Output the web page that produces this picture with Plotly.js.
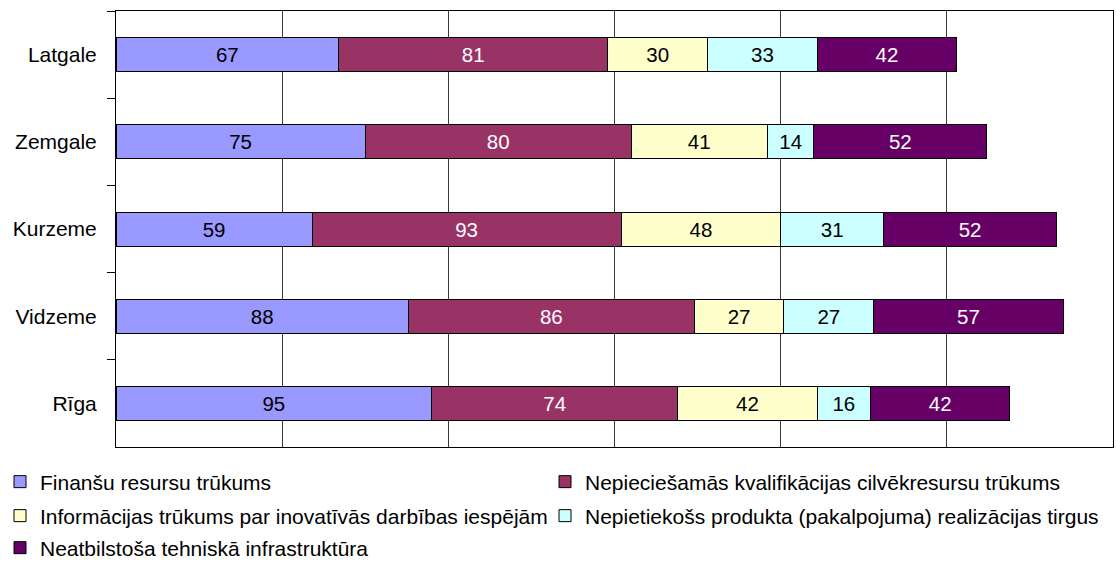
<!DOCTYPE html>
<html>
<head>
<meta charset="utf-8">
<script src="https://cdn.plot.ly/plotly-3.0.1.min.js"></script>
<style>html,body{margin:0;padding:0;background:#fff}#chart{width:1116px;height:561px}</style>
</head>
<body>
<div id="chart"></div>
<script>
const regions = ['Latgale', 'Zemgale', 'Kurzeme', 'Vidzeme', 'Rīga'];
const seriesNames = [
  'Finanšu resursu trūkums',
  'Nepieciešamās kvalifikācijas cilvēkresursu trūkums',
  'Informācijas trūkums par inovatīvās darbības iespējām',
  'Nepietiekošs produkta (pakalpojuma) realizācijas tirgus',
  'Neatbilstoša tehniskā infrastruktūra'
];
const finansu = [67, 75, 59, 88, 95];
const kvalifikacijas = [81, 80, 93, 86, 74];
const informacijas = [30, 41, 48, 27, 42];
const tirgus = [33, 14, 31, 27, 16];
const infrastruktura = [42, 52, 52, 57, 42];
const seriesValues = [finansu, kvalifikacijas, informacijas, tirgus, infrastruktura];
const colors = ['#9999FF', '#993366', '#FFFFCC', '#CCFFFF', '#660066'];
const textColors = ['#000000', '#FFFFFF', '#000000', '#000000', '#FFFFFF'];
const legendIds = ['legend', 'legend2', 'legend3', 'legend4', 'legend5'];

const FONT = 'Arial, "Liberation Sans", sans-serif';
const LEGFONT = {family: FONT, size: 21, color: '#000000'};

const traces = seriesValues.map((vals, i) => ({
  type: 'bar',
  orientation: 'h',
  name: seriesNames[i],
  legend: legendIds[i],
  y: regions,
  x: vals,
  text: vals.map(String),
  textposition: 'inside',
  insidetextanchor: 'middle',
  textangle: 0,
  constraintext: 'none',
  textfont: {family: FONT, size: 20.5, color: textColors[i]},
  marker: {color: colors[i], line: {color: '#000000', width: 1}},
  hoverinfo: 'x+y+name'
}));

function legendBox(xPx, yPx) {
  return {
    orientation: 'h',
    xref: 'container',
    yref: 'container',
    x: xPx / 1116,
    xanchor: 'left',
    y: 1 - yPx / 561,
    yanchor: 'middle',
    itemwidth: 30,
    borderwidth: 0,
    font: LEGFONT,
    bgcolor: 'rgba(0,0,0,0)'
  };
}

const layout = {
  width: 1116,
  height: 561,
  margin: {l: 116, r: 3, t: 11, b: 114, pad: 0, autoexpand: false},
  paper_bgcolor: '#FFFFFF',
  plot_bgcolor: '#FFFFFF',
  barmode: 'stack',
  bargap: 0.61,
  font: {family: FONT, size: 21, color: '#000000'},
  xaxis: {
    range: [0, 300],
    dtick: 50,
    tick0: 0,
    showticklabels: false,
    ticks: '',
    showgrid: true,
    gridcolor: '#3a3a3a',
    gridwidth: 1,
    zeroline: false,
    showline: true,
    linecolor: '#000000',
    linewidth: 1,
    mirror: true
  },
  yaxis: {
    type: 'category',
    autorange: 'reversed',
    tickson: 'boundaries',
    ticks: 'outside',
    ticklen: 8,
    tickcolor: '#000000',
    tickwidth: 1,
    ticklabelstandoff: 14,
    showgrid: false,
    showline: true,
    linecolor: '#000000',
    linewidth: 1,
    mirror: true,
    tickfont: {family: FONT, size: 21, color: '#000000'}
  },
  showlegend: true,
  legend: legendBox(0, 482),
  legend2: legendBox(545, 482),
  legend3: legendBox(0, 516),
  legend4: legendBox(545, 516),
  legend5: legendBox(0, 548)
};

Plotly.newPlot('chart', traces, layout, {displayModeBar: false, staticPlot: true});
</script>
</body>
</html>
